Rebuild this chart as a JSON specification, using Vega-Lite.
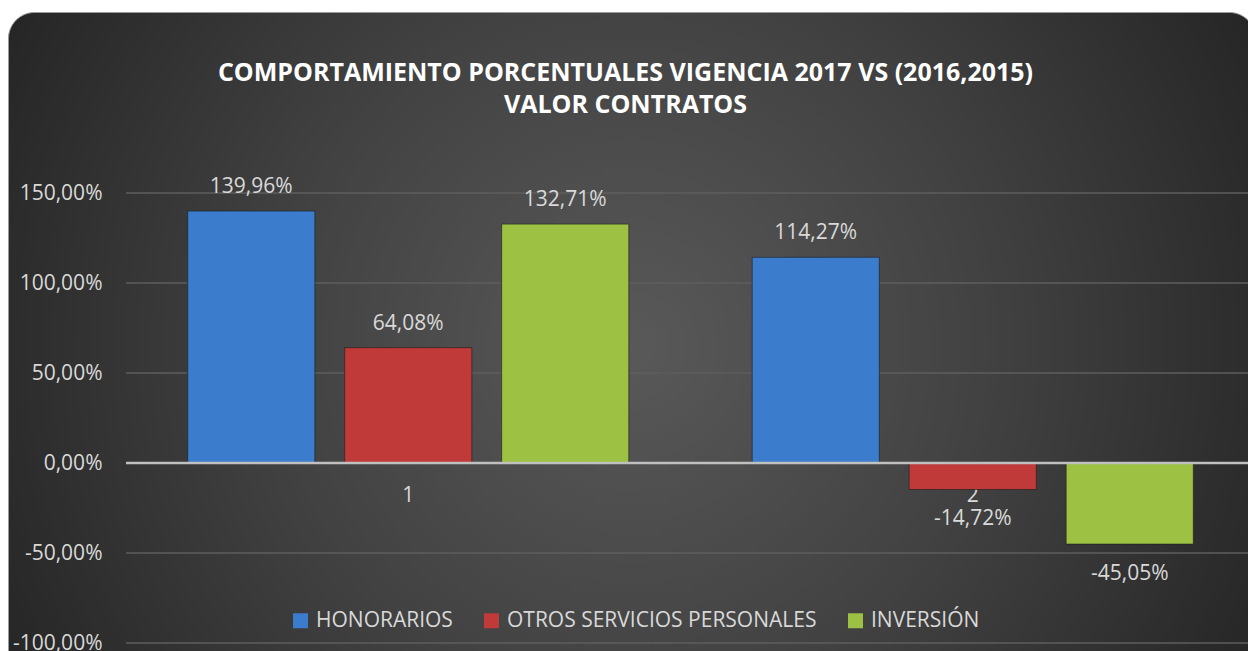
{
  "$schema": "https://vega.github.io/schema/vega-lite/v6.json",
  "width": 1247,
  "height": 667,
  "autosize": {"type": "none"},
  "padding": {"left": 8, "top": 12, "right": 0, "bottom": 0},
  "background": "white",
  "config": {
    "locale": {"number": {"decimal": ",", "thousands": ".", "grouping": [3], "currency": ["$", ""], "minus": "-"}},
    "font": "Open Sans",
    "view": {
      "fill": {"gradient": "radial", "x1": 0.5, "y1": 0.5, "r1": 0, "x2": 0.5, "y2": 0.5, "r2": 0.56,
        "stops": [{"offset": 0, "color": "#595959"}, {"offset": 0.5, "color": "#424242"}, {"offset": 1, "color": "#262626"}]},
      "cornerRadius": 26,
      "stroke": "#9a9a9a",
      "strokeWidth": 1
    },
    "axisY": {"offset": -118, "grid": false, "domain": false, "ticks": false, "labelPadding": 24, "labelFontSize": 21, "labelColor": "#d9d9d9"},
    "axisX": {"offset": -216, "grid": false, "domain": false, "ticks": false, "labelPadding": 21, "labelAngle": 0, "labelFontSize": 21, "labelColor": "#d9d9d9", "zindex": 1}
  },
  "title": {
    "text": ["COMPORTAMIENTO PORCENTUALES VIGENCIA 2017 VS (2016,2015)", "VALOR CONTRATOS"],
    "color": "#ffffff",
    "fontSize": 25,
    "fontWeight": "bold",
    "font": "Open Sans",
    "anchor": "middle",
    "frame": "group",
    "dx": -6,
    "offset": -106,
    "lineHeight": 32
  },
  "datasets": {
    "bars": [
      {"g": "1", "s": "HONORARIOS", "v": 1.3996},
      {"g": "1", "s": "OTROS SERVICIOS PERSONALES", "v": 0.6408},
      {"g": "1", "s": "INVERSIÓN", "v": 1.3271},
      {"g": "2", "s": "HONORARIOS", "v": 1.1427},
      {"g": "2", "s": "OTROS SERVICIOS PERSONALES", "v": -0.1472},
      {"g": "2", "s": "INVERSIÓN", "v": -0.4505}
    ],
    "grid": [{"v": -1}, {"v": -0.5}, {"v": 0.5}, {"v": 1}, {"v": 1.5}],
    "zero": [{"v": 0}]
  },
  "layer": [
    {
      "data": {"name": "grid"},
      "mark": {"type": "rule", "color": "#5e5e5e", "strokeWidth": 1.5},
      "encoding": {
        "y": {"field": "v", "type": "quantitative", "title": null,
          "scale": {"domain": [-1.2, 2.50556], "nice": false, "zero": false},
          "axis": {"values": [-1, -0.5, 0, 0.5, 1, 1.5], "format": ".2%"}},
        "x": {"datum": "1", "type": "nominal", "bandPosition": 0},
        "x2": {"value": "width"}
      }
    },
    {
      "data": {"name": "bars"},
      "mark": {"type": "bar", "stroke": "#1c1c1c", "strokeOpacity": 0.6, "strokeWidth": 1},
      "encoding": {
        "x": {"field": "g", "type": "nominal", "title": null,
          "scale": {"paddingInner": 0, "paddingOuter": 0.10452, "align": 1}},
        "xOffset": {"field": "s", "type": "nominal", "sort": ["HONORARIOS", "OTROS SERVICIOS PERSONALES", "INVERSIÓN"],
          "scale": {"paddingInner": 0.19, "paddingOuter": 0.393}},
        "y": {"field": "v", "type": "quantitative", "title": null},
        "color": {"field": "s", "type": "nominal", "sort": ["HONORARIOS", "OTROS SERVICIOS PERSONALES", "INVERSIÓN"],
          "scale": {"domain": ["HONORARIOS", "OTROS SERVICIOS PERSONALES", "INVERSIÓN"], "range": ["#3c7ccc", "#c03a3a", "#9dc142"]},
          "legend": {"orient": "none", "legendX": 282, "legendY": 598, "direction": "horizontal", "title": null,
            "symbolType": "square", "symbolSize": 225, "symbolStrokeWidth": 0, "labelFontSize": 21, "labelColor": "#d9d9d9",
            "labelLimit": 0, "columnPadding": 28, "labelOffset": 5}}
      }
    },
    {
      "data": {"name": "zero"},
      "mark": {"type": "rule", "color": "#c0c0c0", "strokeWidth": 2.5},
      "encoding": {
        "y": {"field": "v", "type": "quantitative", "title": null},
        "x": {"datum": "1", "type": "nominal", "bandPosition": 0},
        "x2": {"value": "width"}
      }
    },
    {
      "data": {"name": "bars"},
      "transform": [{"filter": "datum.v >= 0"}],
      "mark": {"type": "text", "dy": -18, "baseline": "alphabetic", "fontSize": 21, "color": "#d9d9d9"},
      "encoding": {
        "x": {"field": "g", "type": "nominal", "title": null},
        "xOffset": {"field": "s", "type": "nominal", "sort": ["HONORARIOS", "OTROS SERVICIOS PERSONALES", "INVERSIÓN"]},
        "y": {"field": "v", "type": "quantitative", "title": null},
        "text": {"field": "v", "type": "quantitative", "format": ".2%"}
      }
    },
    {
      "data": {"name": "bars"},
      "transform": [{"filter": "datum.v < 0"}],
      "mark": {"type": "text", "dy": 36, "baseline": "alphabetic", "fontSize": 21, "color": "#d9d9d9"},
      "encoding": {
        "x": {"field": "g", "type": "nominal", "title": null},
        "xOffset": {"field": "s", "type": "nominal", "sort": ["HONORARIOS", "OTROS SERVICIOS PERSONALES", "INVERSIÓN"]},
        "y": {"field": "v", "type": "quantitative", "title": null},
        "text": {"field": "v", "type": "quantitative", "format": ".2%"}
      }
    }
  ]
}
